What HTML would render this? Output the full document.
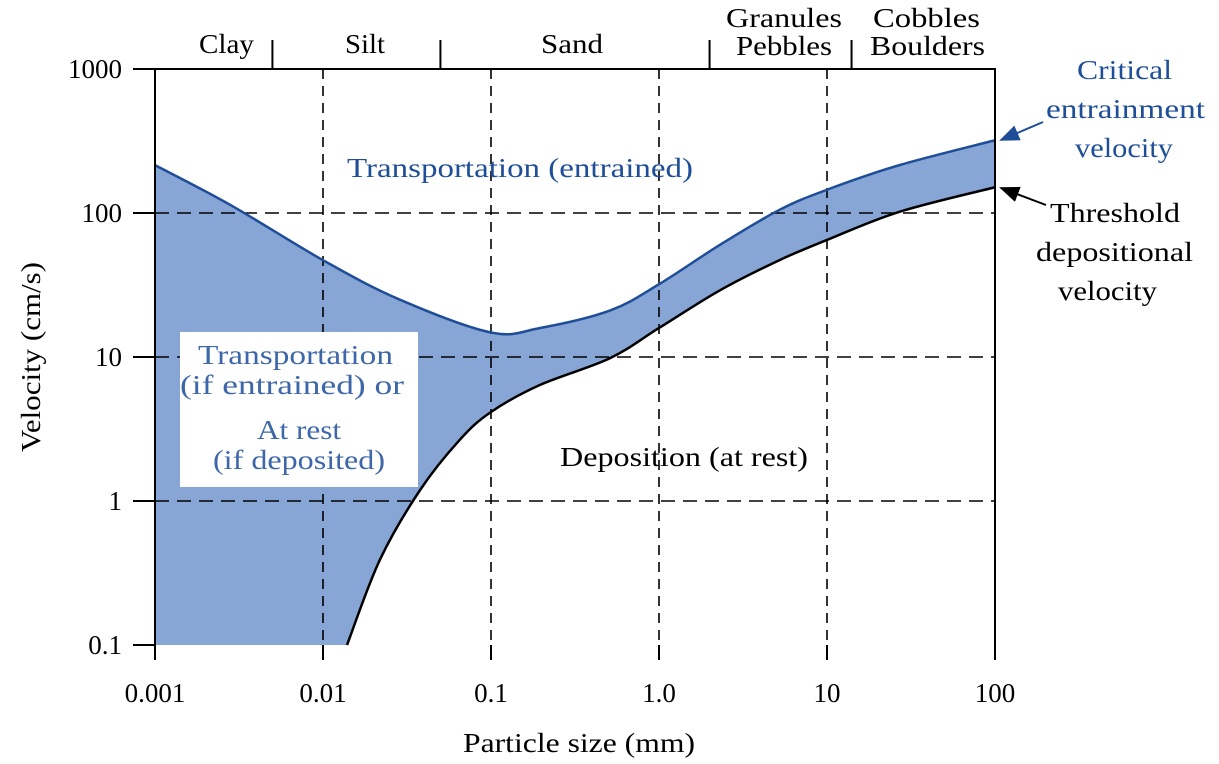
<!DOCTYPE html>
<html><head><meta charset="utf-8"><style>
body{margin:0;background:#fff;}
svg{display:block;font-family:"Liberation Serif",serif;}
</style></head><body>
<svg id="c" width="1219" height="764" viewBox="0 0 1219 764">
<defs>
<marker id="ab" markerWidth="10" markerHeight="8" refX="9" refY="4" orient="auto"><path d="M0,0 L10,4 L0,8 z" fill="#1f4e99"/></marker>
<marker id="ak" markerWidth="10" markerHeight="8" refX="9" refY="4" orient="auto"><path d="M0,0 L10,4 L0,8 z" fill="#000"/></marker>
</defs>
<g id="fillg"></g>
<g id="grid"></g>
<g id="curves"></g>
<g id="axes"></g>
<rect x="180" y="332" width="238" height="155" fill="#fff"/>
<g fill="#3d67a8" font-size="27" lengthAdjust="spacingAndGlyphs">
<text x="198" y="364" textLength="195" lengthAdjust="spacingAndGlyphs">Transportation</text>
<text x="180" y="394" textLength="224" lengthAdjust="spacingAndGlyphs">(if entrained) or</text>
<text x="257" y="439" textLength="84" lengthAdjust="spacingAndGlyphs">At rest</text>
<text x="213" y="469" textLength="172" lengthAdjust="spacingAndGlyphs">(if deposited)</text>
</g>
<text x="347" y="177" fill="#1f4e99" font-size="27" textLength="346" lengthAdjust="spacingAndGlyphs">Transportation (entrained)</text>
<text x="560" y="466" fill="#000" font-size="27" textLength="248" lengthAdjust="spacingAndGlyphs">Deposition (at rest)</text>
<g fill="#1f4e99" font-size="27">
<text x="1077" y="79" textLength="95" lengthAdjust="spacingAndGlyphs">Critical</text><text x="1046" y="118" textLength="159" lengthAdjust="spacingAndGlyphs">entrainment</text><text x="1075" y="157" textLength="98" lengthAdjust="spacingAndGlyphs">velocity</text>
</g>
<g fill="#000" font-size="27">
<text x="1050" y="222" textLength="130" lengthAdjust="spacingAndGlyphs">Threshold</text><text x="1036" y="261" textLength="157" lengthAdjust="spacingAndGlyphs">depositional</text><text x="1058" y="300" textLength="99" lengthAdjust="spacingAndGlyphs">velocity</text>
</g>
<line x1="1043" y1="122" x2="1001" y2="140" stroke="#1f4e99" stroke-width="2" marker-end="url(#ab)"/>
<line x1="1046" y1="205" x2="1001" y2="188" stroke="#000" stroke-width="2" marker-end="url(#ak)"/>
<text x="463" y="752" font-size="27" textLength="232" lengthAdjust="spacingAndGlyphs">Particle size (mm)</text>
<text transform="translate(40,452) rotate(-90)" font-size="27" textLength="190" lengthAdjust="spacingAndGlyphs">Velocity (cm/s)</text>
<g font-size="27">
<text x="199" y="53" textLength="55" lengthAdjust="spacingAndGlyphs">Clay</text><text x="345" y="53" textLength="40" lengthAdjust="spacingAndGlyphs">Silt</text><text x="541" y="53" textLength="62" lengthAdjust="spacingAndGlyphs">Sand</text>
<text x="726" y="27" textLength="116" lengthAdjust="spacingAndGlyphs">Granules</text><text x="736" y="55" textLength="96" lengthAdjust="spacingAndGlyphs">Pebbles</text>
<text x="873" y="27" textLength="107" lengthAdjust="spacingAndGlyphs">Cobbles</text><text x="870" y="55" textLength="115" lengthAdjust="spacingAndGlyphs">Boulders</text>
</g>
</svg>
<script>
const xTicks=[0.001,0.01,0.1,1,10,100];
const xTickLabels=["0.001","0.01","0.1","1.0","10","100"];
const yTicks=[0.1,1,10,100,1000];
const yTickLabels=["0.1","1","10","100","1000"];
const upperSize=[0.001,0.0028,0.01,0.0287,0.1,0.196,0.51,1,2.3,5.2,10,27,100];
const upperVel=[215,114,47,25,14.8,15.9,21,32,60,105,145,215,320];
const lowerSize=[0.0139,0.0218,0.0378,0.065,0.1,0.196,0.51,1,2.3,5.2,10,27,100];
const lowerVel=[0.1,0.39,1.19,2.65,4.15,6.4,9.8,15.9,29,47,65,102,151];
const classBounds=[0.005,0.05,2,14];
const NS="http://www.w3.org/2000/svg";
const X0=155,X1=995,Y0=645,Y1=69;
function xs(v){return X0+(Math.log10(v)+3)/5*(X1-X0);}
function ys(v){return Y0-(Math.log10(v)+1)/4*(Y0-Y1);}
function mk(tag,attrs,parent){const e=document.createElementNS(NS,tag);for(const k in attrs)e.setAttribute(k,attrs[k]);document.getElementById(parent).appendChild(e);return e;}
function smooth(px){let d="M"+px[0][0]+","+px[0][1];for(let i=0;i<px.length-1;i++){const p0=px[i-1]||px[i],p1=px[i],p2=px[i+1],p3=px[i+2]||p2;const c1=[p1[0]+(p2[0]-p0[0])/6,p1[1]+(p2[1]-p0[1])/6],c2=[p2[0]-(p3[0]-p1[0])/6,p2[1]-(p3[1]-p1[1])/6];d+=" C"+c1+" "+c2+" "+p2;}return d;}
const up=upperSize.map((s,i)=>[xs(s),ys(upperVel[i])]);
const lo=lowerSize.map((s,i)=>[xs(s),ys(lowerVel[i])]);
const loRev=lo.slice().reverse();
let fd=smooth(up)+" L"+loRev[0]+smooth(loRev).slice(1).replace(/^[^C]*/," ")+" L"+xs(0.001)+","+ys(0.1)+" Z";
const f=mk("path",{d:fd,fill:"#87a6d6"},"fillg");


yTicks.slice(1,4).forEach(v=>{const l=mk("line",{x1:X0,x2:X1,y1:ys(v),y2:ys(v),stroke:"#000","stroke-width":1.6,"stroke-dasharray":"14,8"},"grid");

});
xTicks.slice(1,5).forEach(v=>{const l=mk("line",{x1:xs(v),x2:xs(v),y1:Y1,y2:Y0,stroke:"#000","stroke-width":1.6,"stroke-dasharray":"10,7"},"grid");

});
const u=mk("path",{d:smooth(up),fill:"none",stroke:"#1f4e99","stroke-width":2.5},"curves");


const lw=mk("path",{d:smooth(lo),fill:"none",stroke:"#000","stroke-width":2.5},"curves");


const fr=mk("path",{d:`M${X0},${Y0} L${X0},${Y1} L${X1},${Y1} L${X1},${Y0}`,fill:"none",stroke:"#000","stroke-width":2},"axes");


yTicks.forEach((v,i)=>{mk("line",{x1:X0-22,x2:X0,y1:ys(v),y2:ys(v),stroke:"#000","stroke-width":2},"axes");
const t=mk("text",{x:122,y:ys(v)+9,"font-size":27,"text-anchor":"end"},"axes");t.textContent=yTickLabels[i];

});
xTicks.forEach((v,i)=>{mk("line",{x1:xs(v),x2:xs(v),y1:Y0,y2:Y0+15,stroke:"#000","stroke-width":2},"axes");
const t=mk("text",{x:xs(v),y:702,"font-size":27,"text-anchor":"middle"},"axes");t.textContent=xTickLabels[i];

});
classBounds.forEach(v=>{const l=mk("line",{x1:xs(v),x2:xs(v),y1:40,y2:Y1,stroke:"#000","stroke-width":2},"axes");

});
</script>
</body></html>
